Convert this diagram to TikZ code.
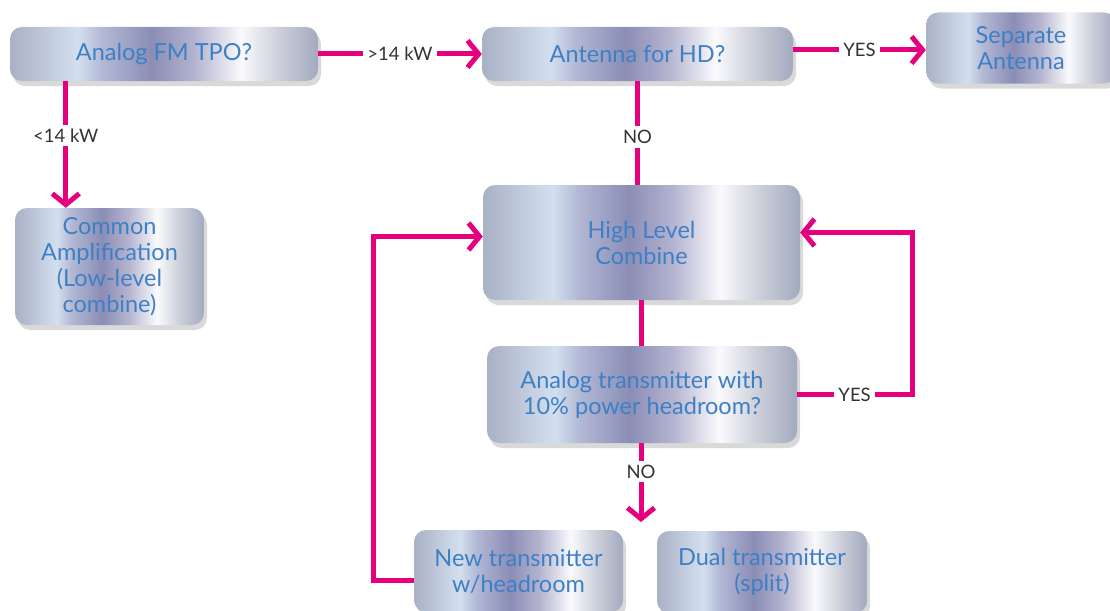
\documentclass[tikz,border=0pt]{standalone}
\usepackage{fontspec}
\setmainfont{Lato}
\usetikzlibrary{arrows.meta,shadows}
\definecolor{mA}{HTML}{A9B1C5}
\definecolor{mB}{HTML}{D3DFEE}
\definecolor{mC}{HTML}{B2B8D4}
\definecolor{mD}{HTML}{8B8DB5}
\definecolor{mE}{HTML}{B4B4D0}
\definecolor{mF}{HTML}{FAFAFD}
\definecolor{mG}{HTML}{CDD0DA}
\definecolor{mH}{HTML}{A3AABF}
\definecolor{boxtext}{HTML}{3E80C6}
\definecolor{linkpink}{HTML}{E5007D}
\definecolor{labeltext}{HTML}{333333}
\pgfdeclarehorizontalshading{metal}{100bp}{color(0bp)=(mA); color(25bp)=(mA); color(36bp)=(mB); color(40bp)=(mC); color(48bp)=(mD); color(55bp)=(mE); color(62.5bp)=(mF); color(68.5bp)=(mG); color(75bp)=(mH); color(100bp)=(mH)}
\begin{document}
\begin{tikzpicture}[x=1pt,y=-1pt]
				\tikzstyle{Box} = [rectangle, rounded corners=12pt, shade, shading=metal, align=center, inner sep=0pt, text=boxtext, font=\fontsize{23.5}{26}\selectfont, drop shadow={shadow xshift=3pt, shadow yshift=-5pt, opacity=0.3}]
				\tikzstyle{Link} = [linkpink, line width=5pt, >={Straight Barb[length=11pt, width=27pt]}]
				\tikzstyle{Label} = [fill=white, inner sep=4pt, text=labeltext, font=\fontsize{18.5}{21}\selectfont]
				\useasboundingbox (0,0) rectangle (1110,610);
				\node (1) at (164,54) [Box, minimum width=308pt, minimum height=54pt] {Analog FM TPO?};
				\node (2) at (637.5,54) [Box, minimum width=311pt, minimum height=54pt] {Antenna for HD?};
				\node (3) at (1021,48) [Box, minimum width=190pt, minimum height=71pt] {Separate\\Antenna};
				\node (4) at (109.5,266.5) [Box, minimum width=189pt, minimum height=117pt] {Common\\Amplification\\(Low-level\\combine)};
				\node (5) at (641.5,242.5) [Box, minimum width=317pt, minimum height=115pt] {High Level\\Combine};
				\node (6) at (642,394.5) [Box, minimum width=310pt, minimum height=97pt] {Analog transmitter with\\10\% power headroom?};
				\node (7) at (518.5,571) [Box, minimum width=209pt, minimum height=82pt] {New transmitter\\w/headroom};
				\node (8) at (762,572) [Box, minimum width=210pt, minimum height=82pt] {Dual transmitter\\(split)};
				\coordinate (r) at (912,0);
				\coordinate (l) at (373,0);
				\coordinate (end) at (641,522);
				\draw[Link] [->] (1.east) to node[Label] {>14 kW} (2.west);
				\draw[Link] [->] ([xshift=56pt]1.south west) to node[Label, pos=0.43] {<14 kW} ([xshift=51pt]4.north west);
				\draw[Link] [->] ([yshift=4pt]2.east) to node[Label] {YES} ([yshift=4pt]2.east -| 3.west);
				\draw[Link] [-] (2.south) to node[Label, pos=0.54] {NO} (2.south |- 5.north);
				\draw[Link] [-] (5.south) to (5.south |- 6.north);
				\draw[Link] [->] (6.east) -- node[Label] {YES} (6.east -| r) |- ([yshift=10pt]5.east);
				\draw[Link] [->] (6.south -| end) to node[Label, pos=0.36] {NO} (end);
				\draw[Link] [->] ([yshift=-9pt]7.west) -- ([yshift=-9pt]7.west -| l) |- ([yshift=6pt]5.west);
			\end{tikzpicture}
\end{document}
